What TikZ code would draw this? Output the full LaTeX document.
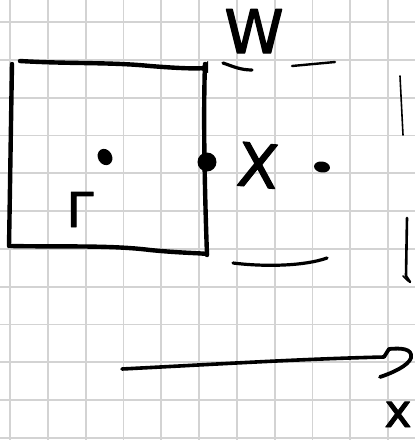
\documentclass[tikz,border=0pt]{standalone}
\usepackage{fontspec}
\newfontfamily\hand[FakeBold=2]{DejaVu Sans}
\begin{document}
\begin{tikzpicture}[x=1pt,y=-1pt,line cap=round,line join=round,
  gridline/.style={draw=gridgray,line width=1.8pt},
  thick ink/.style={draw=black,line width=4.4pt},
  mid ink/.style={draw=black,line width=3.2pt},
  thin ink/.style={draw=black,line width=1.6pt},
  blob/.style={fill=black},
  label/.style={inner sep=0pt,anchor=base,font=\hand}]
\definecolor{gridgray}{RGB}{211,211,211}
\fill[white] (0,0) rectangle (415,440);
\useasboundingbox (0,0) rectangle (415,440);
% grid paper
\foreach \i in {0,...,10} \draw[gridline] ({10+37.8*\i},0) -- ({10+37.8*\i},440);
\foreach \j in {0,...,11} \draw[gridline] (0,{22+37.8*\j}) -- (415,{22+37.8*\j});
% square
\draw[thick ink] (20,61) .. controls (70,64) and (110,62) .. (150,66) .. controls (175,68) and (195,69) .. (205,68);
\fill (199,69) -- (208,61) -- (208,73) -- cycle;
\draw[thick ink] (12,64) .. controls (11,120) and (10,190) .. (9,246);
\draw[thick ink] (205,64) .. controls (203,120) and (205,200) .. (207,255);
\draw[thick ink] (11,246) .. controls (60,247) and (110,245) .. (150,250) .. controls (180,253) and (200,253) .. (207,254);
% dots
\fill[blob,rotate around={30:(105,157)}] (105,157) ellipse (7pt and 8.5pt);
\fill[blob] (207,162) ellipse (9.5pt and 9.5pt);
\fill[blob,rotate around={-8:(322,167)}] (322,167) ellipse (8pt and 5.5pt);
% bracket round X
\draw[mid ink] (223,63) .. controls (232,66) and (240,70) .. (252,70);
\draw[mid ink,line width=2.4pt] (292,66) -- (335,62);
\draw[mid ink] (233,263) .. controls (265,267) and (305,266) .. (327,258);
\draw[thin ink] (400,76) -- (403,135);
\draw[mid ink,line width=2.6pt] (407,218) -- (406,276) -- (410,282);
\draw[thin ink] (403,276) -- (408,281);
% axis arrow
\draw[mid ink,line width=3.6pt] (122,369) .. controls (220,364) and (300,359) .. (384,357);
\draw[mid ink,line width=3.8pt] (384,357) -- (389,349) .. controls (400,348) and (413,348) .. (411,358) .. controls (408,366) and (392,373) .. (380,377);
% labels
\node[label,font=\hand\fontsize{60}{60}\selectfont] (w) at (254,53) {W};
\node[label,font=\hand\fontsize{60}{60}\selectfont,rotate=-5] (bigx) at (256,187) {X};
\node[label,font=\hand\fontsize{48}{48}\selectfont] (gam) at (80,227) {Γ};
\node[label,font=\hand\fontsize{46}{46}\selectfont] (smallx) at (398,427) {x};
\end{tikzpicture}
\end{document}
